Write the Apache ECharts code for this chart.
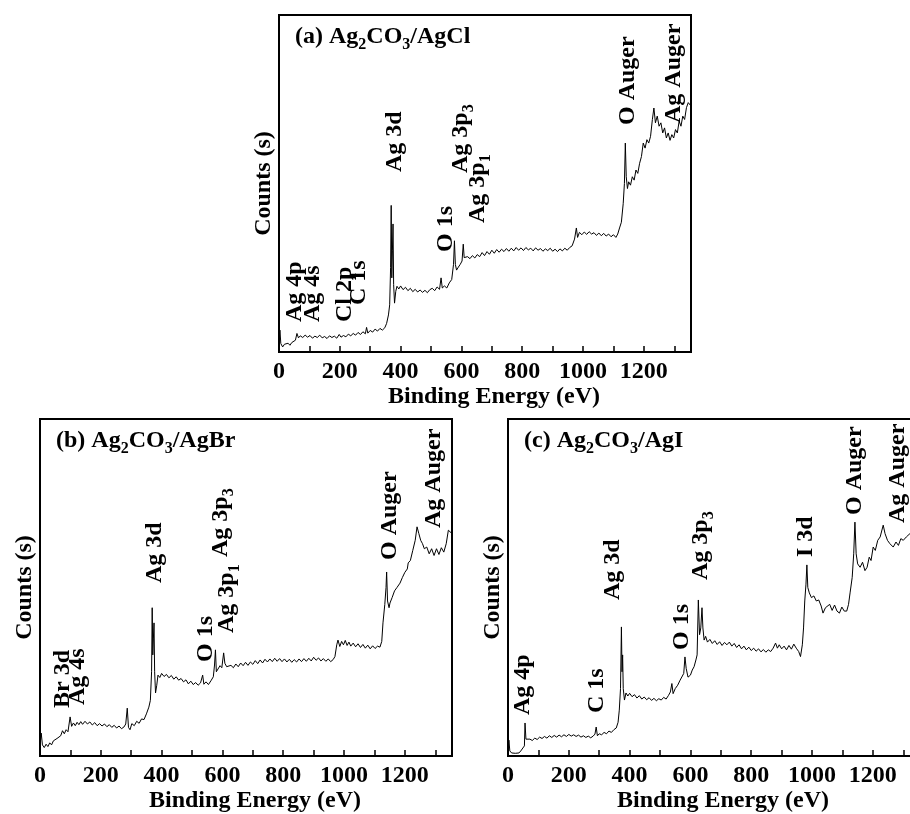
<!DOCTYPE html>
<html>
<head>
<meta charset="utf-8">
<script src="https://cdn.jsdelivr.net/npm/echarts@6/dist/echarts.min.js"></script>
<style>
  html, body { margin: 0; padding: 0; background: #fff; }
  #chart { width: 910px; height: 814px; }
</style>
</head>
<body>
<div id="chart"></div>
<script>
// XPS survey spectra, [binding energy (eV), counts (a.u.)]
const specAgCl = [
  [0, 2], [3, 6.5], [6, 2.5], [12, 1.5], [18, 2.3], [24, 1.8], [30, 2.6], [36, 2.0], [42, 2.8], [48, 2.4],
  [54, 3.5], [59, 5.5], [64, 4.2], [70, 4.8], [78, 4.3], [86, 5.0], [94, 4.4], [102, 4.9], [110, 4.1], [118, 4.7],
  [126, 4.3], [134, 5.0], [142, 4.2], [150, 4.6], [158, 4.0], [166, 4.8], [174, 4.3], [182, 4.7], [190, 4.1], [198, 5.2],
  [204, 4.4], [212, 4.9], [220, 4.5], [228, 5.3], [236, 4.8], [244, 5.5], [252, 5.0], [260, 5.8], [268, 5.2], [276, 6.0],
  [284, 5.4], [288, 7.3], [292, 5.6], [300, 6.4], [308, 5.9], [316, 6.8], [324, 6.2], [332, 7.0], [340, 6.5], [348, 7.2],
  [354, 8.5], [360, 11], [364, 14], [367, 25], [369, 43.5], [371, 22], [373, 30], [375, 38], [377, 20], [380, 14.5],
  [384, 18], [388, 19.5], [394, 18.7], [400, 19.6], [408, 18.5], [416, 19.2], [424, 18.2], [432, 18.9], [440, 17.9], [448, 18.6],
  [456, 17.8], [464, 18.4], [472, 17.7], [480, 18.3], [488, 17.6], [496, 18.5], [504, 18.9], [512, 18.2], [520, 19.3], [528, 18.6],
  [533, 22], [537, 19], [544, 19.6], [552, 19.0], [560, 20.5], [568, 21.5], [574, 26], [577, 33], [580, 26], [584, 24.3],
  [590, 25.2], [596, 26.0], [602, 27.0], [606, 32], [609, 28], [614, 27.5], [620, 28.3], [628, 27.7], [636, 28.6], [644, 27.9],
  [652, 28.9], [660, 28.3], [668, 29.5], [676, 28.6], [684, 29.8], [692, 29.0], [700, 30.2], [708, 29.3], [716, 30.4], [724, 29.6],
  [732, 30.5], [740, 29.8], [748, 30.7], [756, 29.9], [764, 30.8], [772, 30.0], [780, 31.0], [788, 30.2], [796, 30.9], [804, 30.1],
  [812, 31.0], [820, 30.3], [828, 30.8], [836, 30.0], [844, 30.9], [852, 30.2], [860, 30.7], [868, 29.9], [876, 30.6], [884, 30.1],
  [892, 30.8], [900, 29.9], [908, 30.5], [916, 29.8], [924, 30.6], [932, 30.0], [940, 30.8], [948, 30.2], [956, 31.0], [964, 31.5],
  [972, 33.5], [978, 36.8], [982, 34], [988, 35.5], [996, 34.8], [1004, 35.6], [1012, 34.9], [1020, 35.7], [1028, 35.0], [1036, 35.4],
  [1044, 34.6], [1052, 35.3], [1060, 34.5], [1068, 35.2], [1076, 34.4], [1084, 35.0], [1092, 34.2], [1100, 34.8], [1108, 34.0], [1114, 35.0],
  [1120, 36.8], [1126, 38.5], [1132, 44], [1136, 50], [1139, 62], [1142, 52], [1146, 48.5], [1150, 50.5], [1156, 49.5], [1162, 52],
  [1168, 51], [1174, 54], [1180, 53], [1186, 56], [1192, 58], [1198, 62], [1204, 60.5], [1210, 63], [1216, 62], [1222, 64],
  [1228, 69], [1233, 72.4], [1238, 68], [1244, 70], [1250, 67], [1256, 68], [1262, 65], [1268, 66.5], [1274, 63.5], [1280, 65],
  [1286, 62.8], [1292, 64.5], [1298, 63.5], [1304, 66], [1310, 65], [1316, 68.5], [1322, 67], [1328, 70], [1334, 69], [1340, 72.5],
  [1346, 74], [1355, 73]
];
const specAgBr = [
  [0, 3], [4, 6.8], [8, 3.3], [14, 2.5], [20, 3.5], [26, 2.8], [32, 3.9], [38, 3.3], [44, 4.5], [50, 4.0],
  [56, 5.2], [62, 4.8], [68, 6.0], [74, 7.5], [80, 6.6], [86, 7.8], [92, 7.2], [99, 11.6], [104, 8.8], [110, 9.8],
  [116, 9.0], [122, 10.0], [128, 9.3], [134, 10.2], [140, 9.4], [148, 10.3], [156, 9.5], [164, 10.1], [172, 9.2], [180, 9.9],
  [188, 9.0], [196, 9.6], [204, 8.9], [212, 9.5], [220, 8.7], [228, 9.3], [236, 8.5], [244, 9.1], [252, 8.3], [260, 8.9],
  [268, 8.1], [276, 8.6], [282, 9.5], [287, 14.2], [291, 8.5], [296, 7.8], [302, 9.6], [310, 9.0], [318, 10.3], [326, 9.7],
  [334, 11.0], [342, 10.8], [350, 12.5], [358, 14.5], [363, 16.5], [367, 25], [369, 44], [371, 30], [373, 35], [375, 39.5],
  [377, 25], [380, 18.7], [384, 21], [388, 24], [394, 23.3], [400, 24.5], [408, 23.6], [416, 24.2], [424, 23.2], [432, 23.9],
  [440, 22.8], [448, 23.5], [456, 22.5], [464, 23.0], [472, 22.0], [480, 22.6], [488, 21.4], [496, 22.2], [504, 21.2], [512, 21.8],
  [520, 21.0], [528, 21.7], [535, 24], [539, 21.3], [546, 22.0], [554, 21.2], [562, 22.3], [570, 23.5], [574, 27], [577, 31.5],
  [580, 25], [586, 25.5], [592, 26.8], [598, 26.2], [604, 30.6], [608, 27.5], [614, 26.5], [620, 26.0], [628, 26.9], [636, 26.2],
  [644, 27.3], [652, 26.5], [660, 27.6], [668, 26.8], [676, 27.8], [684, 26.9], [692, 27.9], [700, 27.2], [708, 28.3], [716, 27.4],
  [724, 28.5], [732, 27.6], [740, 28.7], [748, 27.9], [756, 28.8], [764, 28.0], [772, 29.0], [780, 28.1], [788, 28.9], [796, 28.0],
  [804, 28.8], [812, 27.9], [820, 28.7], [828, 27.8], [836, 28.6], [844, 27.9], [852, 28.8], [860, 28.0], [868, 28.9], [876, 28.1],
  [884, 29.0], [892, 28.2], [900, 29.3], [908, 28.4], [916, 29.1], [924, 28.2], [932, 28.9], [940, 28.1], [948, 28.8], [956, 28.0],
  [964, 28.6], [970, 29.5], [976, 33], [980, 34.4], [986, 32.5], [992, 34.0], [998, 33.0], [1004, 34.3], [1010, 32.8], [1016, 33.8],
  [1022, 32.6], [1030, 33.5], [1038, 32.4], [1046, 33.3], [1054, 32.2], [1062, 33.1], [1070, 32.0], [1078, 32.9], [1086, 31.8], [1094, 32.7],
  [1102, 31.9], [1110, 32.6], [1118, 32.3], [1124, 34], [1128, 39.5], [1134, 45], [1138, 50], [1140, 54.6], [1143, 46], [1148, 44],
  [1151, 45.4], [1158, 47], [1166, 49], [1174, 50], [1184, 51.3], [1192, 53], [1200, 54.5], [1208, 55.5], [1211, 57.3], [1218, 58],
  [1226, 61], [1234, 64], [1240, 68], [1246, 66], [1252, 64], [1258, 63], [1264, 61.5], [1272, 62], [1280, 60], [1288, 61.5],
  [1296, 59.5], [1304, 61.5], [1312, 59.8], [1320, 61.8], [1328, 60.5], [1336, 63], [1343, 67], [1355, 66]
];
const specAgI = [
  [0, 1], [3, 4.7], [6, 1.5], [12, 0.9], [18, 1.3], [24, 0.8], [30, 1.2], [36, 0.9], [42, 1.5], [48, 1.2],
  [54, 3], [56, 9.8], [59, 5], [64, 4.5], [72, 5.0], [80, 4.6], [88, 5.3], [96, 4.9], [104, 5.6], [112, 5.2],
  [120, 5.8], [128, 5.3], [136, 6.0], [144, 5.5], [152, 6.1], [160, 5.6], [168, 6.2], [176, 5.7], [184, 6.3], [192, 5.8],
  [200, 6.4], [208, 5.9], [216, 6.3], [224, 5.8], [232, 6.2], [240, 5.6], [248, 6.0], [256, 5.5], [264, 5.9], [272, 5.4],
  [280, 5.9], [286, 6.5], [290, 8.6], [294, 6.0], [300, 6.6], [308, 6.3], [316, 7.0], [324, 6.6], [332, 7.4], [340, 7.0],
  [348, 7.8], [356, 8.3], [362, 10], [366, 13.6], [370, 20], [373, 38.3], [375, 25], [377, 30], [379, 20], [383, 16.6],
  [388, 18.7], [394, 17.8], [400, 18.6], [408, 17.6], [416, 18.2], [424, 17.2], [432, 17.9], [440, 16.9], [448, 17.5], [456, 16.7],
  [464, 17.3], [472, 16.5], [480, 17.1], [488, 16.4], [496, 17.0], [504, 16.6], [512, 17.4], [520, 16.9], [528, 18.0], [534, 19.0],
  [539, 21.5], [543, 18.5], [550, 20.0], [558, 21.0], [566, 22.5], [572, 23.0], [578, 24.5], [582, 29.4], [586, 26], [592, 23.4],
  [600, 24.0], [606, 25.5], [612, 26.5], [618, 28.5], [622, 30], [626, 46.3], [630, 36], [634, 38], [638, 44], [641, 38],
  [645, 34.4], [650, 35.5], [656, 33.8], [664, 34.6], [672, 33.4], [680, 34.2], [688, 33.1], [696, 33.9], [704, 32.8], [712, 33.7],
  [720, 33.0], [728, 33.8], [736, 32.6], [744, 33.4], [752, 32.2], [760, 33.0], [768, 31.8], [776, 32.6], [784, 31.5], [792, 32.3],
  [800, 31.3], [808, 32.0], [816, 31.1], [824, 31.8], [832, 30.9], [840, 31.6], [848, 30.8], [856, 31.5], [864, 31.0], [872, 32.0],
  [880, 33.5], [886, 32.0], [892, 33.0], [900, 31.8], [908, 32.6], [916, 31.5], [924, 32.8], [932, 31.7], [940, 33.2], [948, 32.0],
  [956, 31.0], [962, 29.5], [968, 33], [972, 38], [976, 46], [980, 51], [983, 56.7], [986, 50], [991, 48.4], [998, 47],
  [1006, 47.5], [1014, 46], [1022, 46.3], [1030, 44.5], [1036, 42.4], [1044, 44], [1050, 43.5], [1058, 45], [1066, 43.2], [1074, 44.8],
  [1082, 43], [1090, 42.4], [1098, 44.2], [1106, 43.0], [1114, 43], [1120, 45], [1125, 48.4], [1132, 53], [1137, 60], [1141, 69.4],
  [1145, 60], [1150, 57], [1158, 56], [1166, 57.5], [1174, 55], [1181, 56], [1188, 59], [1194, 58], [1201, 62], [1208, 61],
  [1216, 64], [1224, 65], [1234, 68.5], [1240, 66], [1248, 64], [1256, 63], [1267, 62], [1276, 63.5], [1284, 62.5], [1292, 64.5],
  [1300, 64], [1310, 65], [1322, 66], [1330, 66.5], [1340, 67.5], [1355, 68]
];
const xTickLabels = [0, 200, 400, 600, 800, 1000, 1200];
const panelTitles = ['(a) Ag{s|2}CO{s|3}/AgCl', '(b) Ag{s|2}CO{s|3}/AgBr', '(c) Ag{s|2}CO{s|3}/AgI'];

// panel boxes (px)
const boxes = [
  { left: 279, top: 15 },
  { left: 40, top: 419 },
  { left: 508, top: 419 }
];
const boxW = 412
const boxH = 337

// peak labels: text, right edge x, bottom y (px)
const peakLabels = [
  ['Ag 4p', 307, 322], ['Ag 4s', 325, 322], ['Cl 2p', 357, 322], ['C 1s', 371, 305],
  ['Ag 3d', 407, 172], ['O 1s', 458, 252], ['Ag 3p{s|3}', 473, 173], ['Ag 3p{s|1}', 490, 223],
  ['O Auger', 640, 125], ['Ag Auger', 686, 123],
  ['Br 3d', 75, 708], ['Ag 4s', 90, 705], ['Ag 3d', 167, 583], ['O 1s', 218, 662],
  ['Ag 3p{s|3}', 233, 557], ['Ag 3p{s|1}', 239, 633], ['O Auger', 402, 560], ['Ag Auger', 446, 528],
  ['Ag 4p', 535, 715], ['C 1s', 609, 713], ['Ag 3d', 625, 600], ['O 1s', 694, 650],
  ['Ag 3p{s|3}', 713, 580], ['I 3d', 818, 557], ['O Auger', 867, 515], ['Ag Auger', 910, 523]
];

const FONT = 'Liberation Serif, Times New Roman, serif'
const txt = { color: '#000', fontFamily: FONT, fontWeight: 'bold', fontSize: 24 }
// subscript: top padding pushes it below the baseline
const rich = {
  s: { fontFamily: FONT, fontWeight: 'bold', fontSize: 16, lineHeight: 16, padding: [16, 0, 0, 0], fill: '#000' }
}

const myChart = echarts.init(document.getElementById('chart'), null, { renderer: 'canvas' })

const grids = boxes.map(b => ({
  left: b.left,
  top: b.top,
  width: boxW,
  height: boxH,
  show: true,
  borderColor: '#000',
  borderWidth: 2,
  containLabel: false,
  outerBoundsMode: 'none'
}))

const xAxes = boxes.map((b, i) => ({
  gridIndex: i,
  type: 'value',
  min: 0,
  max: 1355,
  interval: 100,
  axisLine: { lineStyle: { color: '#000', width: 2 } },
  axisTick: { inside: true, length: 6, lineStyle: { color: '#000', width: 1.5 } },
  axisLabel: {
    ...txt,
    margin: 8,
    showMaxLabel: false,
    hideOverlap: false,
    formatter: v => (xTickLabels.includes(v) ? String(v) : '')
  },
  splitLine: { show: false },
  name: 'Binding Energy (eV)',
  nameLocation: 'middle',
  nameGap: 30,
  nameTextStyle: { ...txt, padding: [0, 0, 0, 18] }
}))

const yAxes = boxes.map((b, i) => ({
  gridIndex: i,
  type: 'value',
  min: 0,
  max: 100,
  axisLine: { show: true, lineStyle: { color: '#000', width: 2 } },
  axisTick: { show: false },
  axisLabel: { show: false },
  splitLine: { show: false },
  name: 'Counts (s)',
  nameLocation: 'middle',
  nameRotate: 90,
  nameGap: 3,
  nameTextStyle: { ...txt }
}))

const series = [specAgCl, specAgBr, specAgI].map((d, i) => ({
  type: 'line',
  xAxisIndex: i,
  yAxisIndex: i,
  data: d,
  symbol: 'none',
  smooth: false,
  silent: true,
  lineStyle: { color: '#000', width: 1 }
}))

const baseStyle = { fill: '#000', fontFamily: FONT, fontWeight: 'bold', fontSize: 24, lineHeight: 24, rich }

const graphic = []
panelTitles.forEach((t, i) => {
  graphic.push({
    type: 'text',
    x: boxes[i].left + 16,
    y: boxes[i].top + 10,
    style: { ...baseStyle, text: t, align: 'left', verticalAlign: 'top' }
  })
})
peakLabels.forEach(p => {
  graphic.push({
    type: 'text',
    x: p[1],
    y: p[2],
    rotation: Math.PI / 2,
    style: { ...baseStyle, text: p[0], align: 'left', verticalAlign: 'bottom' }
  })
})

const option = {
  animation: false,
  backgroundColor: '#fff',
  grid: grids,
  xAxis: xAxes,
  yAxis: yAxes,
  series: series,
  graphic: graphic
}
myChart.setOption(option)
</script>
</body>
</html>
